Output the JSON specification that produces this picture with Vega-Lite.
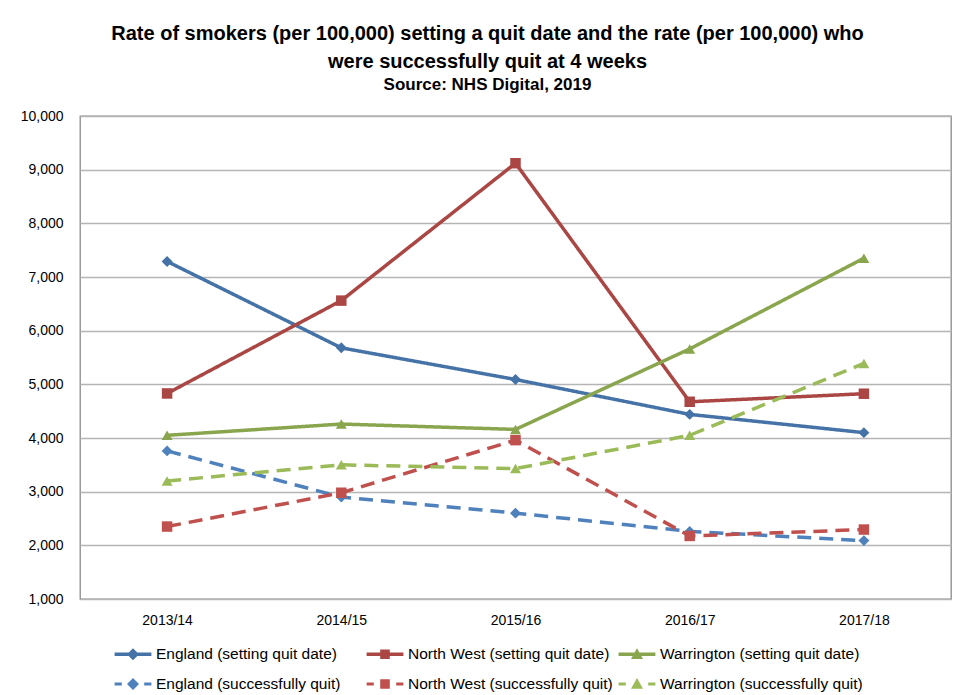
{
  "$schema": "https://vega.github.io/schema/vega-lite/v6.json",
  "width": 871,
  "height": 483,
  "autosize": {"type": "none"},
  "padding": {"left": 80, "top": 116, "right": 4, "bottom": 96},
  "background": "white",
  "title": {
    "text": ["Rate of smokers (per 100,000) setting a quit date and the rate (per 100,000) who", "were successfully quit at 4 weeks"],
    "subtitle": "Source: NHS Digital, 2019",
    "font": "Liberation Sans",
    "fontSize": 20,
    "fontWeight": "bold",
    "lineHeight": 28,
    "color": "black",
    "subtitleFont": "Liberation Sans",
    "subtitleFontSize": 17,
    "subtitleFontWeight": "bold",
    "subtitleColor": "black",
    "subtitlePadding": 5,
    "anchor": "middle",
    "frame": "group",
    "dx": -28,
    "offset": 16
  },
  "data": {
    "values": [
      {"year": "2013/14", "series": "England (setting quit date)", "value": 7290},
      {"year": "2014/15", "series": "England (setting quit date)", "value": 5680},
      {"year": "2015/16", "series": "England (setting quit date)", "value": 5090},
      {"year": "2016/17", "series": "England (setting quit date)", "value": 4440},
      {"year": "2017/18", "series": "England (setting quit date)", "value": 4100},
      {"year": "2013/14", "series": "North West (setting quit date)", "value": 4830},
      {"year": "2014/15", "series": "North West (setting quit date)", "value": 6560},
      {"year": "2015/16", "series": "North West (setting quit date)", "value": 9120},
      {"year": "2016/17", "series": "North West (setting quit date)", "value": 4675},
      {"year": "2017/18", "series": "North West (setting quit date)", "value": 4825},
      {"year": "2013/14", "series": "Warrington (setting quit date)", "value": 4050},
      {"year": "2014/15", "series": "Warrington (setting quit date)", "value": 4260},
      {"year": "2015/16", "series": "Warrington (setting quit date)", "value": 4160},
      {"year": "2016/17", "series": "Warrington (setting quit date)", "value": 5660},
      {"year": "2017/18", "series": "Warrington (setting quit date)", "value": 7350},
      {"year": "2013/14", "series": "England (successfully quit)", "value": 3760},
      {"year": "2014/15", "series": "England (successfully quit)", "value": 2900},
      {"year": "2015/16", "series": "England (successfully quit)", "value": 2600},
      {"year": "2016/17", "series": "England (successfully quit)", "value": 2260},
      {"year": "2017/18", "series": "England (successfully quit)", "value": 2088},
      {"year": "2013/14", "series": "North West (successfully quit)", "value": 2350},
      {"year": "2014/15", "series": "North West (successfully quit)", "value": 2980},
      {"year": "2015/16", "series": "North West (successfully quit)", "value": 3960},
      {"year": "2016/17", "series": "North West (successfully quit)", "value": 2175},
      {"year": "2017/18", "series": "North West (successfully quit)", "value": 2294},
      {"year": "2013/14", "series": "Warrington (successfully quit)", "value": 3200},
      {"year": "2014/15", "series": "Warrington (successfully quit)", "value": 3500},
      {"year": "2015/16", "series": "Warrington (successfully quit)", "value": 3430},
      {"year": "2016/17", "series": "Warrington (successfully quit)", "value": 4050},
      {"year": "2017/18", "series": "Warrington (successfully quit)", "value": 5390}
    ]
  },
  "encoding": {
    "x": {
      "field": "year", "type": "ordinal",
      "scale": {"type": "point", "padding": 0.5},
      "axis": {"title": null, "ticks": false, "domain": false, "labelAngle": 0, "labelPadding": 14, "grid": false}
    },
    "y": {
      "field": "value", "type": "quantitative",
      "scale": {"domain": [1000, 10000], "nice": false, "zero": false},
      "axis": {"title": null, "values": [1000, 2000, 3000, 4000, 5000, 6000, 7000, 8000, 9000, 10000], "format": ",.0f", "ticks": false, "domain": false, "labelPadding": 17, "grid": true}
    },
    "color": {
      "field": "series", "type": "nominal",
      "scale": {
        "domain": ["England (setting quit date)", "North West (setting quit date)", "Warrington (setting quit date)", "England (successfully quit)", "North West (successfully quit)", "Warrington (successfully quit)"],
        "range": ["#4572A7", "#AA4643", "#89A54E", "#4F81BD", "#C0504D", "#9BBB59"]
      },
      "legend": {
        "title": null,
        "orient": "none",
        "legendX": 45,
        "legendY": 530,
        "direction": "horizontal",
        "columns": 3,
        "gridAlign": "all",
        "columnPadding": 5,
        "rowPadding": 13,
        "symbolSize": 256,
        "symbolStrokeWidth": 0,
        "symbolOpacity": 1,
        "labelOffset": 15,
        "labelFont": "Liberation Sans",
        "labelFontSize": 15.5,
        "labelColor": "black",
        "labelLimit": 300
      }
    }
  },
  "layer": [
    {
      "mark": {"type": "line", "strokeWidth": 3.5},
      "encoding": {
        "strokeDash": {
          "field": "series", "type": "nominal",
          "scale": {
            "domain": ["England (setting quit date)", "North West (setting quit date)", "Warrington (setting quit date)", "England (successfully quit)", "North West (successfully quit)", "Warrington (successfully quit)"],
            "range": [[1, 0], [1, 0], [1, 0], [14, 8], [14, 8], [14, 8]]
          },
          "legend": null
        }
      }
    },
    {
      "transform": [{"filter": "indexof(datum.series, 'England') == 0"}],
      "mark": {"type": "point", "filled": true, "opacity": 1, "size": 120, "shape": "diamond"}
    },
    {
      "transform": [{"filter": "indexof(datum.series, 'North') == 0"}],
      "mark": {"type": "point", "filled": true, "opacity": 1, "size": 110, "shape": "square"}
    },
    {
      "transform": [{"filter": "indexof(datum.series, 'Warrington') == 0"}],
      "mark": {"type": "point", "filled": true, "opacity": 1, "size": 120, "shape": "triangle-up"}
    },
    {
      "mark": {"type": "point", "filled": true, "opacity": 0, "size": 1},
      "encoding": {
        "shape": {
          "field": "series", "type": "nominal",
          "scale": {
            "domain": ["England (setting quit date)", "North West (setting quit date)", "Warrington (setting quit date)", "England (successfully quit)", "North West (successfully quit)", "Warrington (successfully quit)"],
            "range": [
              "M-2.3,-0.22L2.3,-0.22L2.3,0.22L-2.3,0.22Z M-0.75,0L0,-0.75L0.75,0L0,0.75Z",
              "M-2.3,-0.22L2.3,-0.22L2.3,0.22L-2.3,0.22Z M-0.6,-0.6L0.6,-0.6L0.6,0.6L-0.6,0.6Z",
              "M-2.3,-0.22L2.3,-0.22L2.3,0.22L-2.3,0.22Z M0,-0.75L0.75,0.6L-0.75,0.6Z",
              "M-2.3,-0.2L-1.4,-0.2L-1.4,0.2L-2.3,0.2Z M1.4,-0.2L2.3,-0.2L2.3,0.2L1.4,0.2Z M-0.75,0L0,-0.75L0.75,0L0,0.75Z",
              "M-2.3,-0.2L-1.4,-0.2L-1.4,0.2L-2.3,0.2Z M1.4,-0.2L2.3,-0.2L2.3,0.2L1.4,0.2Z M-0.6,-0.6L0.6,-0.6L0.6,0.6L-0.6,0.6Z",
              "M-2.3,-0.2L-1.4,-0.2L-1.4,0.2L-2.3,0.2Z M1.4,-0.2L2.3,-0.2L2.3,0.2L1.4,0.2Z M0,-0.75L0.75,0.6L-0.75,0.6Z"
            ]
          },
          "legend": {
            "title": null,
            "orient": "none",
            "legendX": 45,
            "legendY": 530,
            "direction": "horizontal",
            "columns": 3,
            "gridAlign": "all",
            "columnPadding": 5,
            "rowPadding": 13,
            "symbolSize": 256,
            "symbolStrokeWidth": 0,
            "symbolOpacity": 1,
            "labelOffset": 15,
            "labelFont": "Liberation Sans",
            "labelFontSize": 15.5,
            "labelColor": "black",
            "labelLimit": 300
          }
        }
      }
    }
  ],
  "config": {
    "font": "Liberation Sans",
    "view": {"stroke": "#8a8a8a", "strokeWidth": 1.3},
    "axis": {"labelFont": "Liberation Sans", "labelFontSize": 14, "labelColor": "black", "gridColor": "#b5b5b5", "gridWidth": 1.3}
  }
}
